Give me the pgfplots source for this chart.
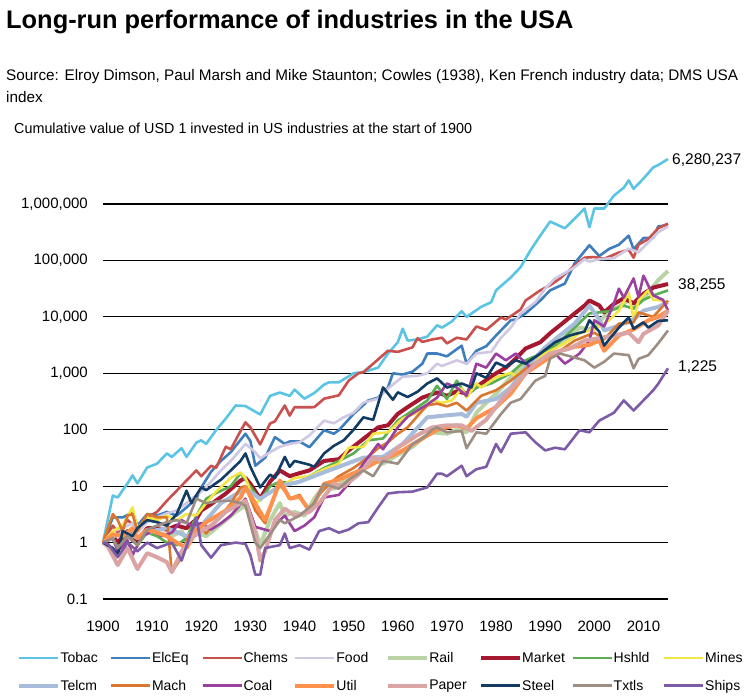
\documentclass[border=0pt]{standalone}
\usepackage{fontspec}
\setmainfont{Liberation Sans}
\usepackage{pgfplots}
\pgfplotsset{compat=1.18}

\definecolor{tobac}{HTML}{5BC4E5}
\definecolor{elceq}{HTML}{3F7EBD}
\definecolor{chems}{HTML}{C9504D}
\definecolor{food}{HTML}{D0C8E2}
\definecolor{rail}{HTML}{BAD4A5}
\definecolor{market}{HTML}{A6182F}
\definecolor{hshld}{HTML}{5AAE50}
\definecolor{mines}{HTML}{F3E543}
\definecolor{telcm}{HTML}{A7BCDB}
\definecolor{mach}{HTML}{D9772F}
\definecolor{coal}{HTML}{9B409E}
\definecolor{util}{HTML}{FF914D}
\definecolor{paper}{HTML}{DBA4A4}
\definecolor{steel}{HTML}{133C64}
\definecolor{txtls}{HTML}{9D8E84}
\definecolor{ships}{HTML}{7D5BA6}

\newcommand{\legtxt}[1]{\makebox[48.9pt][l]{#1}}

\begin{document}
\begin{tikzpicture}
\useasboundingbox (0pt,0pt) rectangle (747pt,-699pt);
\node[anchor=base west,inner sep=0pt,font=\bfseries\fontsize{25.4}{30}\selectfont] at (6pt,-28pt)
  {Long-run performance of industries in the USA};
\node[anchor=base west,inner sep=0pt,font=\fontsize{15.3}{18}\selectfont] at (6pt,-80pt)
  {Source: Elroy Dimson, Paul Marsh and Mike Staunton; Cowles (1938), Ken French industry data; DMS USA};
\node[anchor=base west,inner sep=0pt,font=\fontsize{15.3}{18}\selectfont] at (6pt,-102pt) {index};
\node[anchor=base west,inner sep=0pt,font=\fontsize{14.5}{17}\selectfont] at (14pt,-133pt)
  {\scalebox{0.99}[1]{Cumulative value of USD 1 invested in US industries at the start of 1900}};

\begin{axis}[
  at={(103pt,-599pt)}, anchor=south west,
  scale only axis, width=565pt, height=451.4pt,
  ymode=log, xmin=1900, xmax=2015, ymin=0.1, ymax=1e7,
  axis line style={draw=none}, tick style={draw=none},
  ymajorgrids, major grid style={black, line width=1.2pt},
  ytick={0.1,1,10,100,1000,10000,100000,1000000},
  yticklabels={0.1,1,10,100,{1,000},{10,000},{100,000},{1,000,000}},
  xtick={1900,1910,...,2010},
  xticklabels={1900,1910,1920,1930,1940,1950,1960,1970,1980,1990,2000,2010},
  ticklabel style={font=\fontsize{15}{17}\selectfont, inner sep=0pt},
  yticklabel style={xshift=-15pt},
  xticklabel style={yshift=-22pt},
  every axis plot/.append style={line width=2.6pt, line join=round},
  legend columns=8,
  legend cell align=left,
  legend style={at={(-0.1525,-0.1165)}, anchor=north west, draw=none, fill=none,
    font=\fontsize{14}{17}\selectfont, inner sep=0pt, row sep=15pt, column sep=0pt,
    nodes={inner sep=0.5pt}},
  legend image code/.code={\draw[#1] (0pt,0pt) -- (39pt,0pt);},
  clip=false,
]
\addplot[tobac] coordinates {(1900,1) (1902,6.8) (1903,6.3) (1905,11.2) (1906,15.5) (1907,11.2) (1909,21.4) (1911,25) (1913,38) (1914,33) (1916,47) (1917,33) (1919,59) (1920,65) (1921,56) (1923,98) (1925,158) (1927,269) (1929,263) (1932,186) (1934,398) (1936,457) (1938,398) (1939,513) (1941,355) (1943,447) (1945,631) (1946,692) (1948,692) (1951,1000) (1953,1050) (1956,1260) (1958,2240) (1960,3550) (1961,6170) (1962,3800) (1964,3980) (1966,4470) (1968,7080) (1969,6460) (1971,8320) (1973,12600) (1974,10000) (1977,15100) (1979,18200) (1980,29500) (1983,50000) (1985,76000) (1987,151000) (1989,275000) (1991,490000) (1994,372000) (1996,550000) (1998,832000) (1999,389000) (2000,832000) (2002,832000) (2004,1410000) (2006,1950000) (2007,2630000) (2008,1860000) (2010,2820000) (2012,4470000) (2013,4900000) (2015,6280237)};
\addlegendentry{\legtxt{Tobac}}
\addplot[elceq] coordinates {(1900,1) (1902,2.8) (1904,2.8) (1906,3.4) (1907,2.0) (1909,3.2) (1911,3.0) (1913,3.5) (1915,3.0) (1917,4.2) (1919,6.0) (1920,9.5) (1922,18) (1924,28) (1926,40) (1929,85) (1930,63) (1931,23) (1933,32) (1935,74) (1937,56) (1938,62) (1940,62) (1942,49) (1945,98) (1947,85) (1948,98) (1951,190) (1954,330) (1956,370) (1958,560) (1959,1000) (1961,950) (1963,1070) (1965,1480) (1966,2240) (1968,2240) (1970,2000) (1973,3090) (1974,1480) (1976,2510) (1978,3020) (1980,4680) (1983,8710) (1984,9000) (1986,11500) (1989,19500) (1991,29500) (1994,38900) (1996,89100) (1999,186000) (2001,120000) (2003,160000) (2005,190000) (2007,275000) (2008,158000) (2010,250000) (2012,250000) (2013,400000) (2015,427000)};
\addlegendentry{\legtxt{ElcEq}}
\addplot[chems] coordinates {(1900,1) (1902,2.0) (1903,1.5) (1905,2.5) (1907,1.8) (1909,2.8) (1911,3.5) (1913,5.5) (1915,8.3) (1917,12.6) (1919,19) (1920,15) (1922,23) (1923,21) (1925,50) (1926,45) (1928,95) (1929,135) (1930,110) (1932,55) (1934,129) (1935,141) (1937,269) (1938,178) (1939,251) (1941,250) (1943,251) (1945,355) (1948,407) (1950,741) (1952,1000) (1953,1050) (1955,1480) (1958,2510) (1960,2400) (1963,2880) (1964,4170) (1965,3600) (1967,3980) (1969,4270) (1970,3390) (1972,4270) (1974,3980) (1976,6760) (1978,5890) (1981,9770) (1982,9000) (1985,13500) (1986,19500) (1989,29500) (1991,36300) (1993,47900) (1996,81300) (1998,112000) (2000,115000) (2002,107000) (2005,138000) (2007,155000) (2008,112000) (2009,191000) (2011,240000) (2013,372000) (2015,450000)};
\addlegendentry{\legtxt{Chems}}
\addplot[food] coordinates {(1900,1) (1902,1.6) (1904,1.8) (1906,2.2) (1907,1.5) (1909,2.3) (1911,2.8) (1913,3.3) (1915,3.7) (1917,5.0) (1919,7.0) (1920,8) (1922,12) (1924,19) (1926,28) (1929,56) (1931,40) (1932,31) (1934,40) (1936,50) (1938,56) (1940,60) (1942,79) (1945,145) (1947,130) (1949,166) (1951,200) (1953,302) (1956,355) (1958,537) (1960,741) (1961,871) (1964,900) (1966,1000) (1968,1480) (1969,1350) (1972,1700) (1974,1480) (1976,2240) (1979,2400) (1981,4270) (1983,6460) (1985,11500) (1988,18200) (1990,31600) (1992,47900) (1994,60000) (1996,75900) (1998,105000) (1999,95500) (2001,105000) (2004,110000) (2007,162000) (2009,140000) (2011,209000) (2013,316000) (2015,400000)};
\addlegendentry{\legtxt{Food}}
\addplot[rail, line width=4pt] coordinates {(1900,1) (1902,1.3) (1903,0.9) (1905,1.4) (1907,1.1) (1909,1.6) (1911,1.5) (1914,1.3) (1916,1.6) (1917,1.1) (1919,1.5) (1921,1.3) (1923,1.8) (1925,2.5) (1927,3.5) (1929,4.5) (1930,3) (1932,0.9) (1934,2.5) (1936,5) (1937,3) (1939,3.5) (1941,3) (1943,6) (1945,10) (1947,9) (1950,14) (1952,18) (1955,28) (1957,25) (1959,32) (1961,40) (1963,50) (1965,70) (1967,90) (1970,85) (1972,100) (1974,90) (1976,200) (1978,300) (1980,437) (1983,850) (1985,1200) (1987,1700) (1989,2000) (1991,2500) (1993,3390) (1995,4500) (1997,6460) (1999,6000) (2001,8000) (2003,12900) (2005,15000) (2007,20000) (2008,15000) (2010,22000) (2011,26900) (2013,44700) (2015,65000)};
\addlegendentry{\legtxt{Rail}}
\addplot[market, line width=4pt] coordinates {(1900,1) (1902,1.3) (1903,1.0) (1905,1.6) (1907,1.1) (1909,1.8) (1911,1.8) (1913,1.7) (1915,2.0) (1917,1.8) (1919,2.6) (1920,3.7) (1922,4.8) (1925,7.4) (1928,12.6) (1929,14) (1930,11) (1932,6.0) (1934,12) (1936,19) (1938,15) (1940,17) (1942,19) (1945,28) (1948,30) (1950,43) (1953,69) (1956,110) (1958,120) (1960,191) (1962,251) (1965,372) (1968,457) (1970,400) (1972,480) (1974,437) (1977,661) (1980,1000) (1982,1260) (1984,1820) (1986,2750) (1989,3550) (1991,5130) (1993,7080) (1996,11500) (1998,15800) (1999,19500) (2001,16000) (2002,12000) (2004,17000) (2006,21400) (2008,17400) (2010,25700) (2012,33100) (2015,38255)};
\addlegendentry{\legtxt{Market}}
\addplot[hshld] coordinates {(1900,1) (1902,1.2) (1903,0.8) (1905,1.3) (1907,0.9) (1909,1.5) (1911,1.3) (1913,1.0) (1915,0.9) (1917,1.2) (1919,3) (1921,6) (1923,7.5) (1926,10) (1928,17) (1929,13) (1932,5.6) (1934,10) (1936,12) (1939,11) (1942,15) (1945,21) (1948,28) (1951,38) (1954,65) (1957,70) (1960,145) (1962,190) (1966,330) (1968,600) (1970,350) (1972,740) (1974,400) (1976,560) (1979,660) (1983,1000) (1986,1700) (1989,2200) (1992,3090) (1996,6460) (1999,11500) (2001,12000) (2003,12600) (2006,15800) (2008,14000) (2010,20000) (2012,24000) (2015,29500)};
\addlegendentry{\legtxt{Hshld}}
\addplot[mines] coordinates {(1900,1) (1902,1.6) (1904,2.0) (1906,4.2) (1907,1.8) (1909,2.8) (1911,2.5) (1913,3.0) (1915,2.5) (1917,3.2) (1919,3.0) (1921,5.0) (1923,8) (1926,14) (1928,17.4) (1929,14) (1931,4.9) (1933,7) (1936,9.5) (1939,14) (1942,15) (1945,20) (1948,25) (1950,48) (1953,50) (1955,85) (1958,90) (1961,158) (1965,220) (1967,330) (1969,300) (1971,330) (1973,537) (1974,372) (1976,661) (1977,560) (1980,851) (1983,1020) (1984,900) (1987,1480) (1990,2240) (1994,3390) (1997,5130) (2000,6000) (2003,8710) (2005,12900) (2007,26900) (2008,8710) (2009,19500) (2011,29500) (2012,20000) (2013,20000) (2015,18200)};
\addlegendentry{\legtxt{Mines}}
\addplot[telcm, line width=4pt] coordinates {(1900,1) (1902,1.3) (1905,1.5) (1907,1.2) (1910,1.6) (1913,1.8) (1917,1.3) (1920,2) (1924,5) (1929,9) (1932,6) (1936,10) (1940,12) (1946,19) (1953,32) (1957,33) (1961,56) (1966,166) (1970,180) (1973,190) (1974,170) (1976,300) (1980,350) (1983,560) (1986,1260) (1990,2880) (1993,4680) (1996,7590) (1999,15800) (2001,9000) (2002,5750) (2005,7000) (2008,9000) (2010,12900) (2013,15000) (2015,18200)};
\addlegendentry{\legtxt{Telcm}}
\addplot[mach] coordinates {(1900,1) (1902,3.2) (1903,2.5) (1904,1.6) (1905,3) (1906,3.2) (1907,1.6) (1909,3.2) (1911,2.8) (1913,2.8) (1914,0.3) (1916,0.55) (1917,1.1) (1919,2.2) (1921,1.45) (1924,3) (1926,4.9) (1928,9.5) (1929,10) (1931,3.7) (1933,2.2) (1935,7) (1936,11) (1938,6) (1940,7) (1942,3.7) (1944,7) (1946,11) (1948,15) (1951,21) (1953,28) (1956,47) (1958,60) (1960,85) (1962,110) (1965,219) (1966,270) (1968,290) (1970,260) (1972,300) (1974,219) (1977,400) (1980,501) (1983,741) (1986,1200) (1990,1900) (1993,2500) (1996,3800) (2000,5250) (2002,4000) (2005,7590) (2008,8000) (2009,12000) (2012,10000) (2015,19500)};
\addlegendentry{\legtxt{Mach}}
\addplot[coal] coordinates {(1900,1) (1902,1.2) (1903,0.7) (1905,1.1) (1906,0.6) (1908,1.3) (1910,1.6) (1912,1.3) (1914,1.5) (1916,2.5) (1918,2) (1920,2.2) (1922,1.7) (1924,2.2) (1926,3) (1929,6) (1931,1.9) (1934,1.6) (1936,2.5) (1937,3) (1939,1.6) (1941,2) (1943,2.8) (1945,6.3) (1948,7) (1950,11) (1953,25) (1956,56) (1957,45) (1960,110) (1962,170) (1964,220) (1966,280) (1968,370) (1970,660) (1972,560) (1974,400) (1976,1480) (1978,1260) (1980,2240) (1982,1700) (1984,2240) (1987,1260) (1989,1480) (1992,2240) (1994,1480) (1997,2240) (1999,3800) (2000,8710) (2002,6760) (2004,17400) (2005,31600) (2006,22000) (2008,47900) (2009,22400) (2010,53700) (2012,24000) (2014,20000) (2015,12900)};
\addlegendentry{\legtxt{Coal}}
\addplot[util, line width=4pt] coordinates {(1900,1) (1902,1.4) (1904,1.3) (1906,1.8) (1907,1.2) (1909,1.7) (1911,1.5) (1913,1.3) (1915,1.0) (1917,0.8) (1919,1.6) (1921,2.3) (1925,3.7) (1928,6.3) (1929,9.5) (1932,3.5) (1933,2.5) (1935,7) (1936,12.6) (1938,6) (1940,6.5) (1942,3.7) (1943,5) (1945,11) (1948,13) (1951,17) (1953,20) (1956,28) (1959,35) (1961,43) (1965,70) (1968,100) (1970,110) (1972,120) (1974,105) (1976,160) (1980,251) (1983,437) (1986,1000) (1990,1700) (1993,2510) (1996,2950) (1999,3200) (2001,3800) (2002,2510) (2005,4680) (2008,6000) (2011,8710) (2013,10000) (2015,12900)};
\addlegendentry{\legtxt{Util}}
\addplot[paper, line width=4pt] coordinates {(1900,1) (1901,0.85) (1903,0.4) (1905,0.8) (1907,0.34) (1909,0.65) (1911,0.55) (1913,0.45) (1914,0.3) (1916,0.7) (1918,1.2) (1920,1.6) (1922,2) (1925,3.5) (1928,5) (1929,5.5) (1931,1.5) (1932,0.48) (1933,0.7) (1935,2.5) (1937,4) (1939,3) (1942,3.5) (1944,5) (1947,11) (1949,10) (1952,16) (1955,32) (1957,28) (1960,48) (1964,80) (1967,110) (1970,120) (1973,120) (1975,95) (1978,150) (1981,331) (1984,660) (1988,1480) (1991,2240) (1995,2750) (1998,3800) (2001,4200) (2004,4680) (2007,5250) (2009,3550) (2010,5000) (2013,7000) (2015,12900)};
\addlegendentry{\legtxt{Paper}}
\addplot[steel] coordinates {(1900,1) (1902,0.8) (1903,0.6) (1904,1.6) (1906,1.3) (1907,1.8) (1909,2.5) (1911,2.3) (1913,2.0) (1915,3.2) (1917,8.3) (1918,5) (1920,9.5) (1921,8.5) (1924,13) (1926,19) (1928,28) (1929,38) (1930,22) (1932,9.5) (1934,16) (1935,14) (1937,33) (1938,22) (1939,28) (1942,24) (1943,22) (1945,38) (1947,52) (1949,65) (1951,100) (1953,166) (1955,150) (1957,562) (1959,340) (1960,460) (1962,380) (1964,470) (1966,660) (1968,813) (1970,560) (1973,660) (1975,562) (1976,1000) (1978,830) (1980,1550) (1982,1300) (1984,1700) (1986,1480) (1989,2240) (1992,3550) (1995,4680) (1998,5500) (1999,8710) (2001,5500) (2002,3090) (2005,6460) (2007,9770) (2008,6160) (2010,8000) (2011,6460) (2013,8500) (2015,8710)};
\addlegendentry{\legtxt{Steel}}
\addplot[txtls] coordinates {(1900,1) (1902,1.2) (1903,0.8) (1905,1.3) (1907,0.9) (1909,1.7) (1911,2.0) (1913,2.3) (1915,2.5) (1917,2.2) (1919,6.0) (1921,5.0) (1924,5.5) (1926,5.5) (1928,5.0) (1929,4.5) (1931,1.0) (1932,0.8) (1934,1.4) (1936,2.5) (1937,2.2) (1940,3) (1943,5) (1945,11) (1948,9) (1950,13) (1953,19) (1955,15) (1957,28) (1960,25) (1963,56) (1965,70) (1967,100) (1968,110) (1970,90) (1973,95) (1974,47) (1976,90) (1978,85) (1981,190) (1983,302) (1985,350) (1988,741) (1990,900) (1991,1820) (1993,2240) (1996,1900) (1998,1700) (2000,1260) (2002,1600) (2004,2240) (2007,2100) (2008,1230) (2009,1800) (2011,2100) (2013,3390) (2015,5750)};
\addlegendentry{\legtxt{Txtls}}
\addplot[ships] coordinates {(1900,1) (1901,0.95) (1903,0.55) (1905,1.0) (1907,0.7) (1909,1.0) (1911,0.8) (1914,1.0) (1916,0.48) (1919,2.8) (1920,0.9) (1922,0.54) (1924,0.9) (1927,1.0) (1929,0.95) (1930,0.6) (1931,0.27) (1932,0.27) (1933,0.8) (1936,0.9) (1937,1.45) (1938,0.8) (1940,0.9) (1942,0.75) (1944,1.6) (1946,1.8) (1948,1.5) (1950,1.7) (1952,2.2) (1954,2.3) (1956,4.2) (1958,7.4) (1960,7.8) (1963,8) (1966,9.5) (1968,16.6) (1969,16.6) (1970,15) (1973,23) (1974,15) (1976,20) (1978,22) (1980,56) (1981,40) (1983,85) (1986,90) (1988,60) (1990,43) (1992,48) (1994,45) (1997,98) (1999,90) (2001,145) (2004,200) (2006,331) (2008,219) (2010,331) (2012,501) (2013,650) (2015,1225)};
\addlegendentry{\legtxt{Ships}}
\end{axis}

\node[anchor=west,inner sep=0pt,font=\fontsize{15.5}{18}\selectfont] at (672pt,-160pt) {6,280,237};
\node[anchor=west,inner sep=0pt,font=\fontsize{15.5}{18}\selectfont] at (678pt,-285pt) {38,255};
\node[anchor=west,inner sep=0pt,font=\fontsize{15.5}{18}\selectfont] at (678pt,-367pt) {1,225};
\end{tikzpicture}
\end{document}
